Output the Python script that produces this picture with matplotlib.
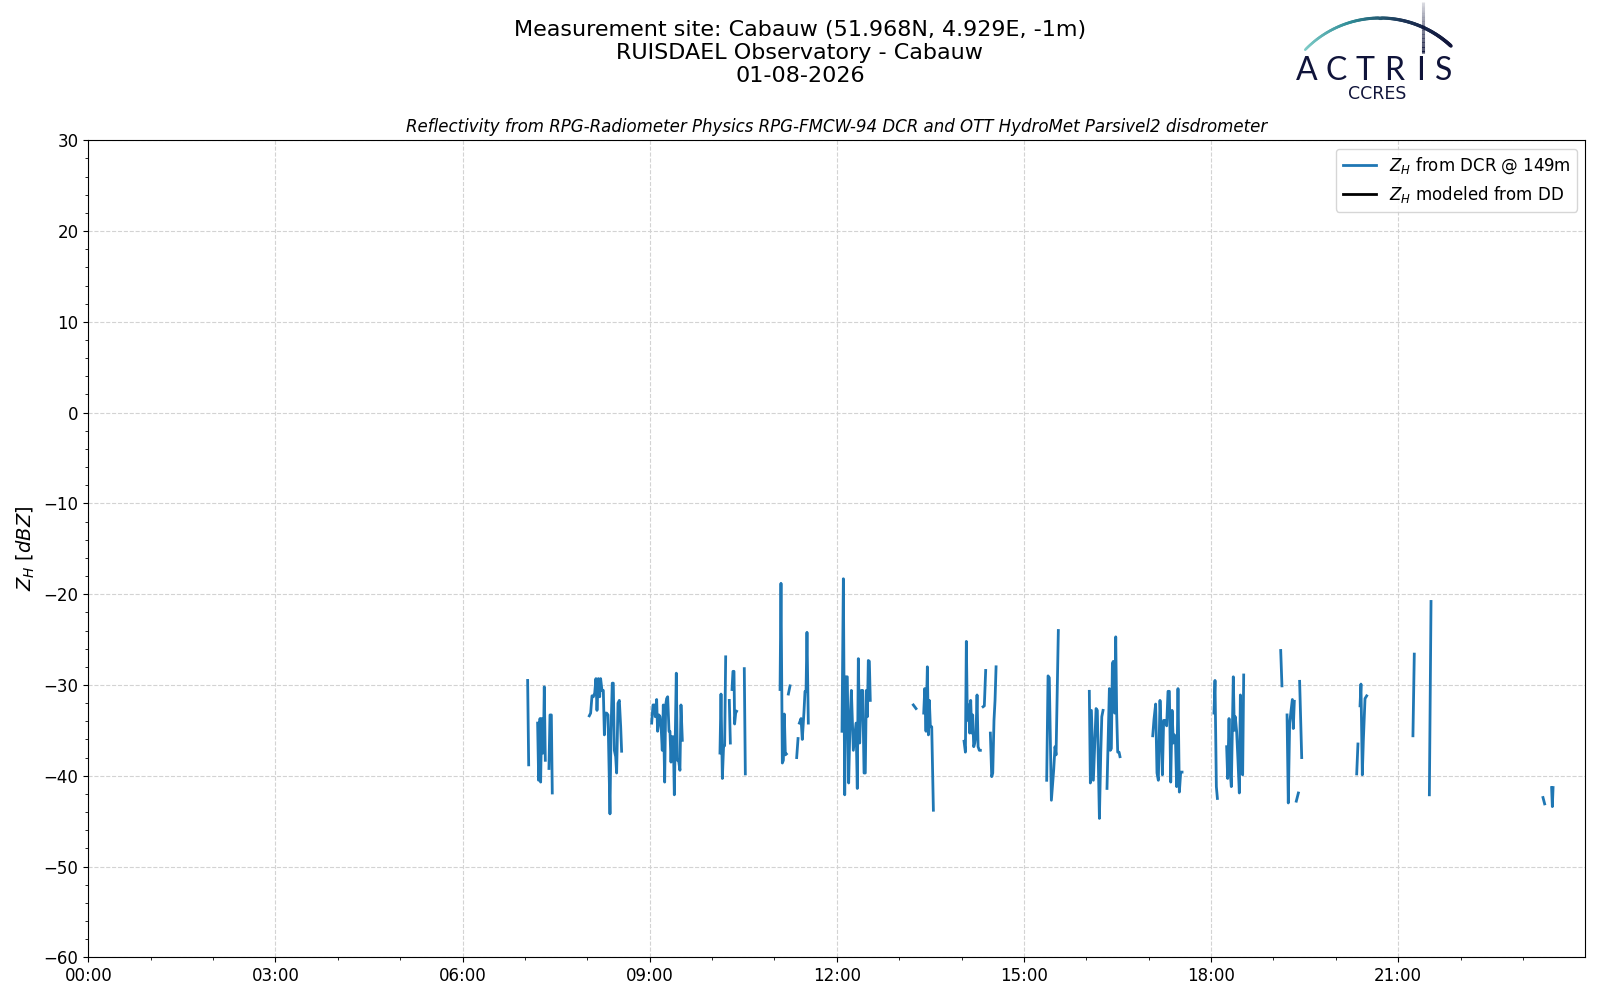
import numpy as np
import matplotlib
matplotlib.use("Agg")
import matplotlib.pyplot as plt
import matplotlib.dates as mdates
from matplotlib.collections import LineCollection
from matplotlib.colors import LinearSegmentedColormap
import datetime as dt

# ---- data: DCR reflectivity at 149 m (minutes after midnight, dBZ); nan = gap
dcr_minutes = [
    422.6, 423.6, np.nan,
    432.2, 433.2, 434.5, 435.1, 436.1, 437.0, 437.7, 438.6, 439.6, np.nan,
    443.1, 444.1, 445.4, 446.3, np.nan,
    481.9, 483.2, 484.5, 485.8, 487.1, 488.3, 489.3, 490.6, 491.9, 492.8, 494.1, 495.4,
    496.4, 497.3, 498.6, 499.9, 501.8, 502.8, 504.0, 505.0, 506.0, 507.3, 508.2, 509.5,
    510.8, 512.1, 513.0, np.nan,
    541.9, 543.2, 544.5, 545.4, 546.7, 547.6, 548.9, 549.9, 551.2, 552.1, 553.1, 554.4,
    555.4, 556.3, 557.3, 558.6, 559.5, 560.5, 561.4, 562.7, 563.7, 564.6, 565.6, 566.6,
    567.8, 569.1, 570.1, 571.4, np.nan,
    607.6, 608.6, 609.9, 611.1, 612.1, 613.1, np.nan,
    616.6, 617.6, np.nan,
    619.2, 620.1, 621.1, 621.7, 622.7, 623.6, np.nan,
    631.0, 632.0, np.nan,
    665.4, 666.3, 667.6, 668.6, 669.5, 670.5, 671.5, np.nan,
    673.4, 675.0, np.nan,
    681.4, 682.7, np.nan,
    684.0, 685.6, 686.8, 688.4, 689.4, 690.4, 691.3, 692.6, np.nan,
    725.0, 726.3, 727.6, 728.8, 730.1, 731.4, 732.7, 734.0, 735.9, 738.5, 739.7, 740.7,
    742.0, 743.6, 744.9, 746.2, 747.4, 748.4, 749.4, 750.3, 751.3, 752.2, np.nan,
    793.6, 796.2, np.nan,
    803.6, 804.6, 805.8, 807.1, 808.1, 809.0, 810.0, 811.3, 812.9, np.nan,
    842.4, 843.7, 844.6, 845.6, 846.9, 847.8, 848.8, 849.8, 850.7, 851.7, 852.7, 853.9,
    854.9, 855.9, 857.1, 858.1, np.nan,
    860.7, 861.9, 863.2, np.nan,
    867.7, 869.0, 870.0, 871.2, 872.2, 873.2, np.nan,
    921.9, 923.2, 924.4, 925.4, 926.4, 928.6, 929.9, 930.9, 933.1, np.nan,
    962.9, 963.9, 964.9, 966.8, 967.8, 969.4, 970.6, 972.6, 973.9, 974.9, 976.1, np.nan,
    979.9, 982.2, 983.1, 984.1, 985.1, 986.0, 987.3, 988.3, 989.2, 990.2, 991.5, 992.4, np.nan,
    1023.9, 1025.1, 1026.7, 1028.0, 1029.3, 1030.9, 1031.9, 1033.2, 1034.4, 1035.7, 1037.3,
    1038.6, 1039.9, 1041.2, 1042.5, 1043.7, 1044.7, 1045.7, 1046.9, 1048.2, 1049.5, 1050.8,
    1052.1, np.nan,
    1082.8, 1083.8, 1085.1, 1086.1, np.nan,
    1095.0, 1096.0, 1097.3, 1098.2, 1099.5, 1101.4, 1102.4, 1103.3, 1104.6, 1105.9, 1107.2,
    1108.2, 1109.5, 1110.4, 1111.4, np.nan,
    1147.0, 1148.2, np.nan,
    1153.1, 1154.3, 1155.6, 1158.2, 1159.1, 1160.1, np.nan,
    1162.0, 1164.0, np.nan,
    1165.2, 1167.2, np.nan,
    1220.1, 1221.3, np.nan,
    1223.3, 1224.2, 1225.5, 1226.5, 1228.1, 1229.7, np.nan,
    1274.2, 1275.5, np.nan,
    1290.0, 1291.6, np.nan,
    1399.3, 1400.9, np.nan,
    1407.6, 1408.3, 1409.0,
]
dcr_zh = [
    -29.5, -38.8, np.nan,
    -34.2, -40.5, -33.7, -40.7, -33.7, -37.5, -37.5, -30.2, -38.3, np.nan,
    -39.2, -33.3, -33.3, -41.9, np.nan,
    -33.4, -33.1, -31.2, -31.3, -30.9, -29.3, -32.8, -29.3, -31.3, -29.3, -30.6, -30.6,
    -35.5, -33.1, -33.1, -33.3, -44.2, -35.1, -29.8, -29.8, -37.2, -37.9, -39.7, -32.0,
    -31.7, -34.6, -37.3, np.nan,
    -34.2, -32.2, -32.2, -33.5, -31.6, -35.1, -33.3, -33.5, -35.1, -37.2, -32.2, -40.7,
    -32.2, -31.5, -31.3, -35.1, -35.1, -38.5, -35.7, -35.7, -42.1, -35.7, -28.7, -38.3,
    -38.3, -39.4, -32.2, -36.1, np.nan,
    -37.5, -31.0, -40.3, -36.7, -36.7, -26.9, np.nan,
    -31.7, -36.4, np.nan,
    -30.5, -28.5, -28.5, -34.3, -33.1, -32.9, np.nan,
    -28.2, -39.8, np.nan,
    -30.5, -18.8, -38.6, -38.3, -33.2, -37.7, -37.6, np.nan,
    -31.0, -30.1, np.nan,
    -38.0, -35.9, np.nan,
    -34.2, -33.7, -36.0, -33.0, -30.7, -30.7, -24.2, -34.2, np.nan,
    -35.1, -18.3, -42.1, -29.1, -29.1, -40.8, -34.2, -30.6, -37.2, -34.2, -41.4, -27.1,
    -36.4, -30.6, -30.6, -39.7, -39.7, -30.6, -33.5, -27.3, -27.4, -31.7, np.nan,
    -32.2, -32.6, np.nan,
    -33.1, -30.4, -35.1, -28.0, -35.5, -31.7, -34.6, -34.6, -43.8, np.nan,
    -36.2, -37.4, -25.2, -33.9, -32.2, -35.3, -31.7, -35.3, -33.3, -36.8, -36.4, -35.3,
    -31.1, -36.8, -37.2, -37.2, np.nan,
    -32.4, -32.3, -28.4, np.nan,
    -35.3, -40.1, -39.7, -33.9, -31.7, -28.0, np.nan,
    -40.5, -29.0, -29.2, -36.1, -42.7, -39.4, -36.8, -37.7, -24.0, np.nan,
    -30.7, -40.8, -32.8, -40.5, -37.5, -32.6, -32.8, -44.7, -37.5, -33.5, -32.8, np.nan,
    -41.4, -30.4, -37.2, -37.0, -27.6, -27.4, -33.1, -24.7, -33.1, -37.4, -37.4, -37.9, np.nan,
    -35.6, -33.8, -32.1, -39.7, -40.5, -31.7, -34.6, -39.9, -33.9, -33.9, -34.5,
    -30.7, -30.7, -40.7, -32.8, -36.4, -35.5, -35.7, -41.2, -30.4, -41.8, -39.6,
    -39.6, np.nan,
    -33.1, -29.5, -41.2, -42.5, np.nan,
    -36.8, -40.3, -33.7, -39.2, -41.2, -29.1, -35.0, -33.5, -35.1, -38.3, -41.9,
    -31.1, -39.7, -39.9, -28.9, np.nan,
    -26.2, -30.1, np.nan,
    -33.3, -43.0, -34.2, -31.6, -34.8, -31.8, np.nan,
    -42.8, -41.9, np.nan,
    -29.6, -38.0, np.nan,
    -39.8, -36.5, np.nan,
    -32.3, -29.9, -39.9, -36.1, -31.5, -31.2, np.nan,
    -35.6, -26.6, np.nan,
    -42.1, -20.8, np.nan,
    -42.4, -43.1, np.nan,
    -41.3, -43.4, -41.3,
]
# disdrometer-modelled reflectivity: no data for this day
dd_minutes = []
dd_zh = []

day = dt.datetime(2026, 8, 1)
site_title = "Measurement site: Cabauw (51.968N, 4.929E, -1m)\nRUISDAEL Observatory - Cabauw\n01-08-2026"
sub_title = "Reflectivity from RPG-Radiometer Physics RPG-FMCW-94 DCR and OTT HydroMet Parsivel2 disdrometer"

day_num = mdates.date2num(day)
x_dcr = day_num + np.array(dcr_minutes) / 1440.0
x_dd = day_num + np.array(dd_minutes, dtype=float) / 1440.0

fig = plt.figure(figsize=(16, 10), dpi=100)
ax = fig.add_axes([0.0552, 0.0427, 0.9356, 0.8170])

ax.plot(x_dcr, dcr_zh, color="tab:blue", lw=2, label=r"$Z_H$ from DCR @ 149m")
ax.plot(x_dd, dd_zh, color="black", lw=2, label=r"$Z_H$ modeled from DD")

ax.xaxis_date()
ax.set_xlim(day, day + dt.timedelta(hours=23, minutes=59, seconds=59))
ax.set_ylim(-60, 30)
ax.xaxis.set_major_locator(mdates.HourLocator(byhour=range(0, 24, 3)))
ax.xaxis.set_minor_locator(mdates.HourLocator())
ax.xaxis.set_major_formatter(mdates.DateFormatter("%H:%M"))
ax.yaxis.set_major_locator(plt.MultipleLocator(10))
ax.yaxis.set_minor_locator(plt.MultipleLocator(2))
ax.tick_params(labelsize=12)
ax.grid(True, which="major", ls="--", color="#d3d3d3", lw=0.8)
ax.set_ylabel(r"$Z_H$ [$dBZ$]", fontsize=14, labelpad=4.5)
ax.set_title(sub_title, fontsize=12, style="italic")
ax.legend(loc="upper right", fontsize=12)

fig.text(0.5, 0.980, site_title, ha="center", va="top", fontsize=16, linespacing=1.2)

# ---- ACTRIS / CCRES logo, drawn in figure pixel coordinates
logo = fig.add_axes([0, 0, 1, 1], zorder=5)
logo.set_xlim(0, 1600)
logo.set_ylim(1000, 0)
logo.set_axis_off()
logo.patch.set_alpha(0)

cx, cy, r = 1380, 122, 104
theta = np.radians(np.linspace(-46, 43, 120))
arc_x = cx + r * np.sin(theta)
arc_y = cy - r * np.cos(theta)
pts = np.column_stack([arc_x, arc_y]).reshape(-1, 1, 2)
segs = np.concatenate([pts[:-1], pts[1:]], axis=1)
arc_cmap = LinearSegmentedColormap.from_list("actris", ["#7fcdc8", "#2f8c97", "#1d3557", "#10143a"])
arc_w = np.linspace(1.8, 2.6, len(segs))
arc = LineCollection(segs, colors=arc_cmap(np.linspace(0, 1, len(segs))), linewidths=arc_w,
                     capstyle="round")
logo.add_collection(arc)

vy = np.linspace(2, 53, 40)
vpts = np.column_stack([np.full_like(vy, 1423), vy]).reshape(-1, 1, 2)
vsegs = np.concatenate([vpts[:-1], vpts[1:]], axis=1)
vcols = [(0.06, 0.08, 0.23, a) for a in np.linspace(0.15, 1, len(vsegs))]
logo.add_collection(LineCollection(vsegs, colors=vcols, linewidths=2.2))

for letter, lx in zip("ACTRIS", [1307, 1336, 1365, 1394, 1421, 1444]):
    logo.text(lx, 71, letter, ha="center", va="center", fontsize=23, color="#10143a",
              family="Lato")
logo.text(1377, 94, "CCRES", ha="center", va="center", fontsize=12.5, color="#10143a")

fig.savefig("out.png", dpi=100)
